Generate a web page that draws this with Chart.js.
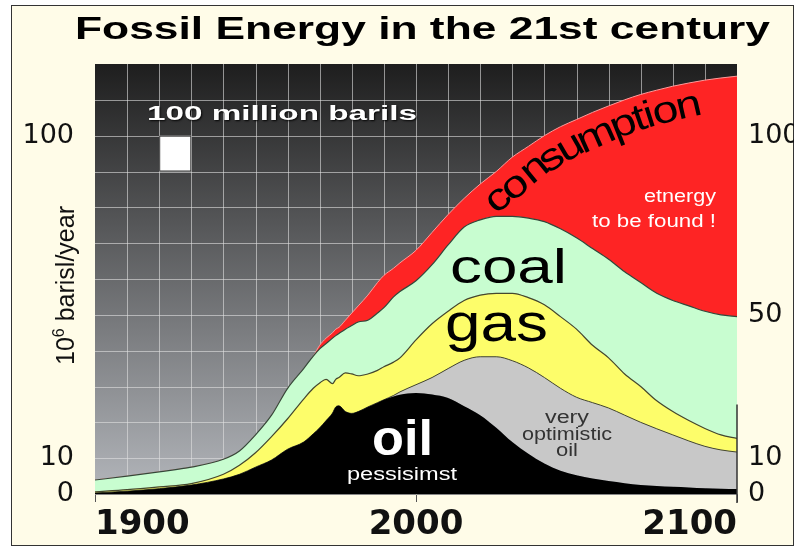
<!DOCTYPE html>
<html>
<head>
<meta charset="utf-8">
<script src="https://cdn.jsdelivr.net/npm/chart.js@4"></script>
<style>
  html, body { margin: 0; padding: 0; background: #fff; }
  #frame { position: absolute; left: 11px; top: 5px; width: 781px; height: 539px; background: #fffce8; border: 1px solid #333; }
  #chart { position: absolute; left: 0; top: 0; }
</style>
</head>
<body>
<div id="frame"></div>
<canvas id="chart" width="794" height="546"></canvas>
<script>
// years, values are the top edge of each band (10^6 barils/year)
const years = [1900, 1910, 1920, 1930, 1940, 1945, 1950, 1955, 1960, 1965, 1968, 1970, 1972, 1974, 1975, 1976,
  1978, 1980, 1982, 1985, 1988, 1990, 1993, 1995, 2000, 2005, 2010, 2015, 2020, 2025, 2030, 2035,
  2040, 2045, 2050, 2055, 2060, 2065, 2070, 2075, 2080, 2085, 2090, 2095, 2100];

const oilPessimist = [0.3, 0.8, 1.5, 2.5, 4.2, 5.5, 7.5, 9.5, 12.5, 14.5, 16.8, 18.5, 20.5, 22.6, 24.3, 24.6,
  23, 22.5, 23, 24.3, 25.5, 26.3, 27.2, 27.7, 28.2, 27.8, 26.8, 24.5, 22, 18.5, 14.5, 11.2,
  8.5, 6.5, 5.2, 4.3, 3.6, 3, 2.5, 2.2, 2, 1.8, 1.6, 1.5, 1.4];

const oilOptimistic = [0.3, 0.8, 1.5, 2.5, 4.2, 5.5, 7.5, 9.5, 12.5, 14.5, 16.8, 18.5, 20.5, 22.6, 24.3, 24.6,
  23, 22.5, 23, 24.3, 25.5, 26.3, 27.5, 28.5, 30.5, 32.5, 35, 37.3, 38.3, 38.3, 37.2, 35.2,
  32.5, 29.5, 27, 25.5, 24, 22, 20, 18.2, 16.5, 14.8, 13.3, 12.3, 11.7];

const gas = [0.6, 1.2, 2, 2.9, 5.5, 8, 11.5, 16, 21, 26.5, 29.5, 31, 32, 30.8, 32, 32.5,
  33.8, 33.5, 33, 33.5, 34.5, 35.5, 36.8, 38, 43, 47.5, 51, 54, 55.5, 56, 56, 54.8,
  52.8, 49.5, 46, 41.5, 38, 33.5, 30, 26, 23, 20.5, 18.3, 16.5, 15.5];

const coal = [3.9, 5, 6.2, 7.5, 9.7, 12, 16.5, 22, 29.5, 35, 38.5, 40.5, 42, 43.5, 44.2, 44.8,
  46, 47, 48, 48.5, 50.5, 52, 55, 56.5, 59.5, 64, 69.5, 74.5, 76.5, 77.5, 77.5, 77,
  76, 74, 71.5, 68.5, 65.5, 62, 59, 56, 54, 52.5, 51, 50, 49.5];

const consumption = [3.9, 5, 6.2, 7.5, 9.7, 12, 16.5, 22, 29.5, 35, 38.5, 41.5, 43.5, 45, 46, 46.5,
  48.5, 50.5, 52.5, 55.5, 59, 61, 63, 64.5, 68, 73, 78, 82.5, 86.5, 90, 94, 97,
  100, 102.5, 104.5, 106.5, 108.3, 110, 111.5, 112.7, 113.8, 114.7, 115.5, 116.1, 116.6];

const leftTicks = [0, 10, 100];
const rightTicks = [0, 10, 50, 100];

const pts = (arr) => years.map((yr, i) => ({ x: yr, y: arr[i] }));

const SANS = '"Liberation Sans", Arial, sans-serif';

function txt(ctx, s, x, y, font, color, opt = {}) {
  ctx.save();
  ctx.font = font;
  ctx.fillStyle = color;
  ctx.textBaseline = "alphabetic";
  ctx.textAlign = opt.align || "left";
  const w = ctx.measureText(s).width;
  const sx = opt.width ? opt.width / w : (opt.sx || 1);
  if (opt.shadow) {
    ctx.shadowColor = "rgba(0,0,0,0.9)";
    ctx.shadowBlur = 2;
    ctx.shadowOffsetX = 1;
    ctx.shadowOffsetY = 1;
  }
  ctx.translate(x, y);
  ctx.scale(sx, 1);
  ctx.fillText(s, 0, 0);
  ctx.restore();
}

// dark gradient and the grid behind the bands
const backdrop = {
  id: "backdrop",
  beforeDraw(chart) {
    const { ctx, chartArea: a, scales } = chart;
    const g = ctx.createLinearGradient(0, a.top, 0, a.bottom);
    g.addColorStop(0, "#1e1e1e");
    g.addColorStop(1, "#b3b6bb");
    ctx.save();
    ctx.fillStyle = g;
    ctx.fillRect(a.left, a.top, a.width, a.height);
    ctx.strokeStyle = "rgba(225,225,225,0.6)";
    ctx.lineWidth = 1;
    ctx.beginPath();
    for (let yr = 1910; yr < 2100; yr += 10) {
      const px = Math.round(scales.x.getPixelForValue(yr)) + 0.5;
      ctx.moveTo(px, a.top);
      ctx.lineTo(px, a.bottom);
    }
    for (let v = 10; v < 120; v += 10) {
      const py = Math.round(scales.y.getPixelForValue(v)) + 0.5;
      ctx.moveTo(a.left, py);
      ctx.lineTo(a.right, py);
    }
    ctx.stroke();
    ctx.restore();
  },
};

const annotations = {
  id: "annotations",
  afterDatasetsDraw(chart) {
    const { ctx, chartArea: a, scales } = chart;
    const x = scales.x, y = scales.y;

    // 100 million barils square (10 years x 10 units)
    const sx0 = x.getPixelForValue(1920), sx1 = x.getPixelForValue(1930);
    const sy0 = y.getPixelForValue(100), sy1 = y.getPixelForValue(90);
    ctx.save();
    ctx.fillStyle = "#fff";
    ctx.strokeStyle = "#333";
    ctx.lineWidth = 1;
    ctx.fillRect(sx0, sy0, sx1 - sx0, sy1 - sy0);
    ctx.strokeRect(sx0 + 0.5, sy0 + 0.5, sx1 - sx0 - 1, sy1 - sy0 - 1);
    ctx.restore();
    txt(ctx, "100 million barils", 147, 120, "bold 20px " + SANS, "#fff", { width: 270, shadow: true });

    // band labels
    txt(ctx, "coal", 450, 283, "48px " + SANS, "#000", { width: 117 });
    txt(ctx, "gas", 445, 341, "54px " + SANS, "#000", { width: 103 });
    txt(ctx, "oil", 372, 455, "bold 50px " + SANS, "#fff", { width: 61 });
    txt(ctx, "pessisimst", 347, 480, "18px " + SANS, "#fff", { width: 110 });
    txt(ctx, "very", 567, 423, "18px " + SANS, "#333", { align: "center", width: 44 });
    txt(ctx, "optimistic", 567, 440, "18px " + SANS, "#333", { align: "center", width: 90 });
    txt(ctx, "oil", 567, 456, "18px " + SANS, "#333", { align: "center", width: 22 });
    txt(ctx, "etnergy", 716, 202, "18px " + SANS, "#fff", { align: "right", width: 72 });
    txt(ctx, "to be found !", 716, 227, "18px " + SANS, "#fff", { align: "right", width: 124 });

    // "consumption" follows the top of the red band
    const line = chart.getDatasetMeta(4).data.map((p) => ({ x: p.x, y: p.y }));
    const fy = (px) => {
      for (let i = 0; i < line.length - 1; i++) {
        if (px >= line[i].x && px <= line[i + 1].x) {
          const t = (px - line[i].x) / (line[i + 1].x - line[i].x);
          return line[i].y + t * (line[i + 1].y - line[i].y);
        }
      }
      return line[line.length - 1].y;
    };
    ctx.save();
    ctx.font = "38px " + SANS;
    ctx.fillStyle = "#000";
    ctx.textBaseline = "alphabetic";
    const stretch = 1.22;
    let cx = 474;
    for (const ch of "consumption") {
      const w = ctx.measureText(ch).width * stretch;
      const ang = Math.atan((fy(cx + 6) - fy(cx - 6)) / 12);
      const px = cx - Math.sin(ang) * 34;
      const py = fy(cx) + Math.cos(ang) * 34;
      ctx.save();
      ctx.translate(px, py);
      ctx.rotate(ang);
      ctx.scale(stretch, 1);
      ctx.fillText(ch, 0, 0);
      ctx.restore();
      cx += w * Math.cos(ang) * 0.96;
    }
    ctx.restore();

    // short right-hand axis line
    ctx.save();
    ctx.strokeStyle = "#333";
    ctx.lineWidth = 1.5;
    ctx.beginPath();
    ctx.moveTo(a.right, y.getPixelForValue(25));
    ctx.lineTo(a.right, a.bottom + 9);
    ctx.stroke();
    ctx.restore();
  },
  afterDraw(chart) {
    const { ctx } = chart;
    txt(ctx, "Fossil Energy in the 21st century", 75, 39, "bold 31px " + SANS, "#000", { width: 695 });

    // y axis title with superscript
    ctx.save();
    ctx.translate(74, 365);
    ctx.rotate(-Math.PI / 2);
    ctx.fillStyle = "#111";
    ctx.textBaseline = "alphabetic";
    ctx.font = "25px " + SANS;
    ctx.fillText("10", 0, 0);
    let off = ctx.measureText("10").width;
    ctx.font = "16px " + SANS;
    ctx.fillText("6", off, -10);
    off += ctx.measureText("6").width;
    ctx.font = "25px " + SANS;
    ctx.fillText(" barisl/year", off, 0);
    ctx.restore();
  },
};

const axisFont = { family: "DejaVu Sans", size: 27 };

new Chart(document.getElementById("chart"), {
  type: "line",
  data: {
    datasets: [
      { label: "oil pessimist", data: pts(oilPessimist), backgroundColor: "#000", borderColor: "#000", borderWidth: 0, fill: "origin" },
      { label: "very optimistic oil", data: pts(oilOptimistic), backgroundColor: "#c8c8c8", borderColor: "#45472e", borderWidth: 1, fill: "-1" },
      { label: "gas", data: pts(gas), backgroundColor: "#fdfd6a", borderColor: "#45472e", borderWidth: 1.2, fill: "-1" },
      { label: "coal", data: pts(coal), backgroundColor: "#c8fdd0", borderColor: "#34483a", borderWidth: 1.2, fill: "-1" },
      { label: "consumption", data: pts(consumption), backgroundColor: "#fe2424", borderColor: "#ff9a9a", borderWidth: 1, fill: "-1" },
    ],
  },
  options: {
    responsive: false,
    animation: false,
    layout: { padding: { top: 64, left: 0, right: 0, bottom: 0 } },
    elements: {
      point: { radius: 0 },
      line: { cubicInterpolationMode: "monotone" },
    },
    plugins: {
      legend: { display: false },
      tooltip: { enabled: false },
      title: { display: false },
    },
    scales: {
      x: {
        type: "linear",
        min: 1900,
        max: 2100,
        afterFit: (s) => { s.height = 52; },
        ticks: {
          stepSize: 100,
          align: "inner",
          autoSkip: false,
          maxRotation: 0,
          padding: 3,
          color: "#111",
          font: { family: "DejaVu Sans", size: 34, weight: "bold" },
          callback: (v) => String(v),
        },
        grid: { drawOnChartArea: false, drawTicks: true, tickLength: 8, color: "#555" },
        border: { color: "#888", width: 1 },
      },
      y: {
        position: "left",
        min: 0,
        max: 120,
        afterBuildTicks: (s) => { s.ticks = leftTicks.map((v) => ({ value: v })); },
        afterFit: (s) => { s.width = 95; },
        ticks: { padding: 21, color: "#111", font: axisFont },
        grid: { display: false, drawTicks: false },
        border: { display: false },
      },
      y2: {
        position: "right",
        min: 0,
        max: 120,
        afterBuildTicks: (s) => { s.ticks = rightTicks.map((v) => ({ value: v })); },
        afterFit: (s) => { s.width = 57; },
        ticks: { padding: 11, color: "#111", font: axisFont },
        grid: { display: false, drawTicks: false },
        border: { display: false },
      },
    },
  },
  plugins: [backdrop, annotations],
});
</script>
</body>
</html>
